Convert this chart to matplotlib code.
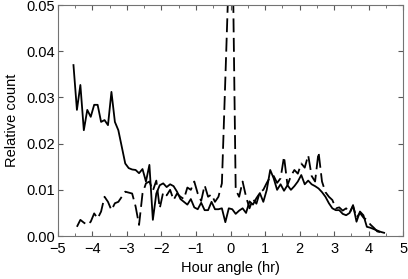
import matplotlib
matplotlib.use('Agg')
import matplotlib.pyplot as plt
import numpy as np
from matplotlib.ticker import MultipleLocator

# relative count per 0.1 hr bin, solid series starts at -4.55 hr
solid = [0.0370, 0.0273, 0.0327, 0.0229, 0.0273, 0.0258, 0.0284, 0.0284, 0.0247, 0.0251,
         0.0240, 0.0312, 0.0247, 0.0229, 0.0193, 0.0157, 0.0147, 0.0144, 0.0143, 0.0136,
         0.0145, 0.0118, 0.0154, 0.0035, 0.0092, 0.0110, 0.0114, 0.0106, 0.0112, 0.0108,
         0.0096, 0.0080, 0.0074, 0.0068, 0.0080, 0.0062, 0.0058, 0.0072, 0.0056, 0.0056,
         0.0074, 0.0058, 0.0058, 0.0060, 0.0030, 0.0060, 0.0058, 0.0048, 0.0055, 0.0060,
         0.0050, 0.0075, 0.0068, 0.0082, 0.0093, 0.0074, 0.0100, 0.0143, 0.0125, 0.0100,
         0.0112, 0.0098, 0.0110, 0.0100, 0.0108, 0.0118, 0.0132, 0.0112, 0.0120, 0.0112,
         0.0108, 0.0103, 0.0095, 0.0085, 0.0071, 0.0060, 0.0056, 0.0056, 0.0048, 0.0045,
         0.0050, 0.0067, 0.0031, 0.0053, 0.0045, 0.0020, 0.0018, 0.0015, 0.0012, 0.0009,
         0.0007]

# dashed series starts at -4.45 hr
dashed = [0.0020, 0.0035, 0.0029, 0.0024, 0.0031, 0.0049, 0.0038, 0.0053, 0.0085, 0.0074,
          0.0056, 0.0071, 0.0074, 0.0085, 0.0096, 0.0094, 0.0092, 0.0064, 0.0024, 0.0092,
          0.0114, 0.0118, 0.0098, 0.0120, 0.0060, 0.0095, 0.0088, 0.0100, 0.0078, 0.0092,
          0.0085, 0.0080, 0.0105, 0.0100, 0.0118, 0.0092, 0.0076, 0.0110, 0.0085, 0.0090,
          0.0074, 0.0085, 0.0114, 0.0340, 0.0570, 0.0680, 0.0100, 0.0085, 0.0118, 0.0085,
          0.0060, 0.0080, 0.0070, 0.0095, 0.0100, 0.0115, 0.0128, 0.0130, 0.0115, 0.0125,
          0.0172, 0.0110, 0.0130, 0.0143, 0.0135, 0.0157, 0.0148, 0.0175, 0.0130, 0.0118,
          0.0182, 0.0118, 0.0095, 0.0085, 0.0078, 0.0060, 0.0062, 0.0055, 0.0060, 0.0050,
          0.0065, 0.0040, 0.0050, 0.0040, 0.0035, 0.0025, 0.0018, 0.0010, 0.0008, 0.0006]

plt.rcParams['font.family'] = ['Liberation Sans', 'DejaVu Sans']
plt.rcParams['lines.scale_dashes'] = False

hour_solid = -4.55 + 0.1 * np.arange(len(solid))
hour_dashed = -4.45 + 0.1 * np.arange(len(dashed))

fig = plt.figure(figsize=(4.08, 2.79), dpi=100)
ax = fig.add_axes([0.142, 0.154, 0.846, 0.828])

ax.plot(hour_solid, solid, color='black', lw=1.3)
ax.plot(hour_dashed, dashed, color='black', lw=1.3, linestyle=(0, (10, 4)))

ax.set_xlim(-5, 5)
ax.set_ylim(0, 0.05)
ax.xaxis.set_major_locator(MultipleLocator(1))
ax.xaxis.set_minor_locator(MultipleLocator(0.5))
ax.yaxis.set_major_locator(MultipleLocator(0.01))
ax.yaxis.set_major_formatter(matplotlib.ticker.FormatStrFormatter('%.2f'))
ax.tick_params(which='both', direction='in', top=True, right=True,
               labelsize=10.5, color='0.35')
ax.tick_params(axis='x', pad=4)
ax.tick_params(axis='y', pad=2)
ax.tick_params(which='major', length=3.5)
ax.tick_params(which='minor', length=2)
for s in ax.spines.values():
    s.set_color('0.45')
    s.set_linewidth(0.8)

ax.set_xlabel('Hour angle (hr)', fontsize=10.5, labelpad=4)
ax.set_ylabel('Relative count', fontsize=10.5, labelpad=5)

fig.savefig('out.png', dpi=100)
